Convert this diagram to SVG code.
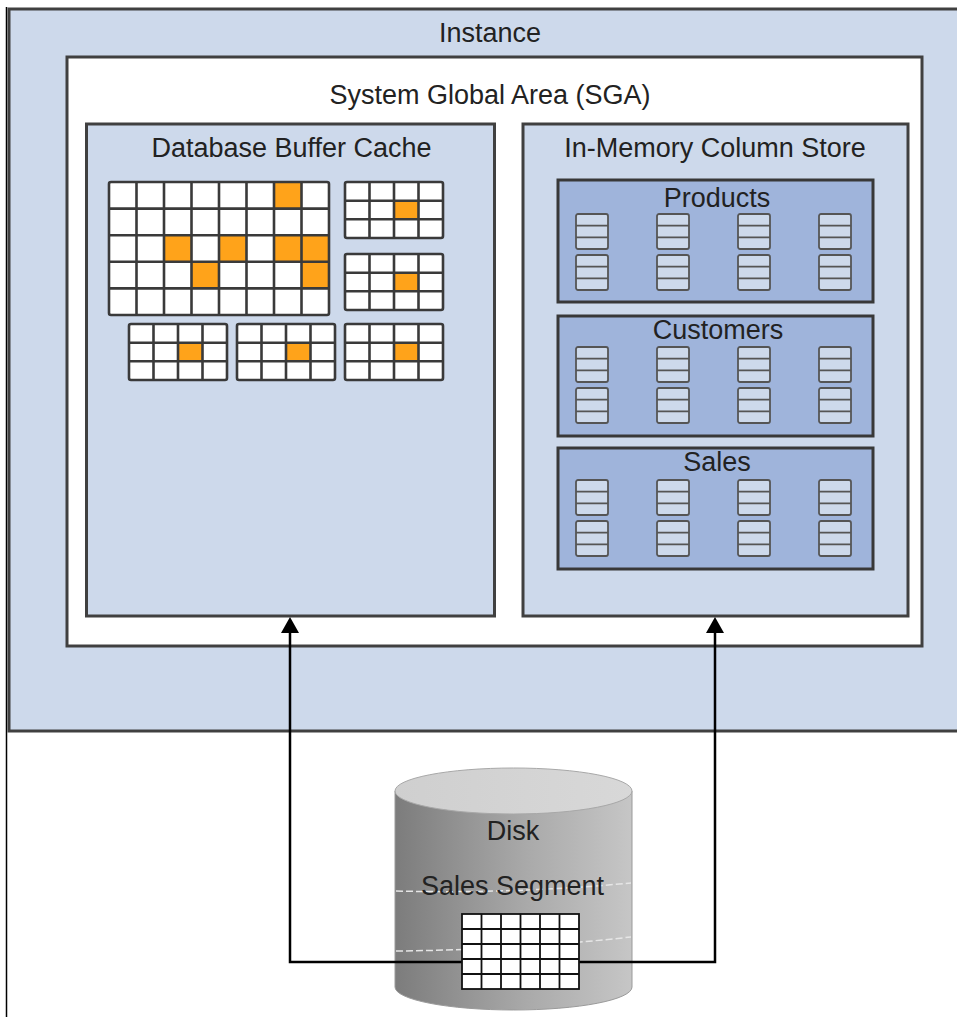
<svg xmlns="http://www.w3.org/2000/svg" xmlns:xlink="http://www.w3.org/1999/xlink" width="957" height="1017" viewBox="0 0 957 1017">
<style>
text{font-family:"Liberation Sans",Arial,sans-serif;font-size:27px;fill:#222;text-anchor:middle}
.box{stroke:#404040;stroke-width:3}
.blue{fill:#cdd9eb}
.tbl{fill:#9fb4db;stroke:#383838;stroke-width:3}
.grid{fill:none;stroke:#3a3a3a;stroke-width:2.6}
.cell{fill:#fff}
.hot{fill:#ffa31a}
.conn{fill:none;stroke:#000;stroke-width:2.5}
.band{fill:none;stroke:#e6e6e6;stroke-width:1.5;stroke-dasharray:7 3}
.dgrid{fill:none;stroke:#111;stroke-width:1.8}
</style>
<defs>
<marker id="arrow" viewBox="0 0 16 18" refX="8" refY="9" markerWidth="16" markerHeight="18" markerUnits="userSpaceOnUse" orient="auto">
<path d="M0,0 L16,9 L0,18 Z" fill="#000"/>
</marker>
<g id="smallgrid">
<rect x="0" y="0" width="98" height="56" rx="2" class="cell"/>
<rect x="49" y="18.7" width="24.5" height="18.7" class="hot"/>
<path class="grid" d="M24.5,0V56M49,0V56M73.5,0V56M0,18.7H98M0,37.3H98"/>
<rect x="0" y="0" width="98" height="56" rx="2" class="grid"/>
</g>
<g id="icon">
<rect x="0" y="0" width="32" height="35" rx="2" fill="#cdd9eb" stroke="#555" stroke-width="1.8"/>
<path d="M0,11.7H32M0,23.3H32" stroke="#555" stroke-width="1.8"/>
</g>
<linearGradient id="body" x1="0" y1="0" x2="1" y2="0">
<stop offset="0" stop-color="#7c7c7c"/>
<stop offset="0.55" stop-color="#a9a9a9"/>
<stop offset="1" stop-color="#c6c6c6"/>
</linearGradient>
<linearGradient id="top" x1="0" y1="0" x2="1" y2="0">
<stop offset="0" stop-color="#cfcfcf"/>
<stop offset="1" stop-color="#d8d8d8"/>
</linearGradient>
</defs>

<line x1="6.5" y1="7" x2="6.5" y2="1017" stroke="#000" stroke-width="1.5"/>

<g id="instance">
<rect x="9" y="9" width="960" height="722" class="box blue"/>
<text x="490" y="42">Instance</text>
</g>

<g id="sga">
<rect x="67" y="57" width="855" height="589" class="box" fill="#fff"/>
<text x="490" y="104">System Global Area (SGA)</text>
</g>

<g id="buffer-cache">
<rect x="86.5" y="124" width="408" height="492" class="box blue"/>
<text x="291.5" y="157">Database Buffer Cache</text>
<g id="big-grid">
<rect x="109" y="182" width="220" height="133" rx="2" class="cell"/>
<rect x="274" y="182" width="27.5" height="26.6" class="hot"/>
<rect x="164" y="235.2" width="27.5" height="26.6" class="hot"/>
<rect x="219" y="235.2" width="27.5" height="26.6" class="hot"/>
<rect x="274" y="235.2" width="27.5" height="26.6" class="hot"/>
<rect x="301.5" y="235.2" width="27.5" height="26.6" class="hot"/>
<rect x="191.5" y="261.8" width="27.5" height="26.6" class="hot"/>
<rect x="301.5" y="261.8" width="27.5" height="26.6" class="hot"/>
<path class="grid" d="M136.5,182V315M164,182V315M191.5,182V315M219,182V315M246.5,182V315M274,182V315M301.5,182V315M109,208.6H329M109,235.2H329M109,261.8H329M109,288.4H329"/>
<rect x="109" y="182" width="220" height="133" rx="2" class="grid"/>
</g>
<use xlink:href="#smallgrid" x="345" y="182"/>
<use xlink:href="#smallgrid" x="345" y="254"/>
<use xlink:href="#smallgrid" x="129" y="324"/>
<use xlink:href="#smallgrid" x="237" y="324"/>
<use xlink:href="#smallgrid" x="345" y="324"/>
</g>

<g id="column-store">
<rect x="523" y="124" width="385" height="492" class="box blue"/>
<text x="715" y="157">In-Memory Column Store</text>
</g>

<g id="products">
<rect x="558" y="180" width="315" height="122" class="tbl"/>
<text x="717" y="207">Products</text>
<use xlink:href="#icon" x="576" y="214"/><use xlink:href="#icon" x="657" y="214"/><use xlink:href="#icon" x="738" y="214"/><use xlink:href="#icon" x="819" y="214"/>
<use xlink:href="#icon" x="576" y="255"/><use xlink:href="#icon" x="657" y="255"/><use xlink:href="#icon" x="738" y="255"/><use xlink:href="#icon" x="819" y="255"/>
</g>

<g id="customers">
<rect x="558" y="316" width="315" height="120" class="tbl"/>
<text x="718" y="339">Customers</text>
<use xlink:href="#icon" x="576" y="347"/><use xlink:href="#icon" x="657" y="347"/><use xlink:href="#icon" x="738" y="347"/><use xlink:href="#icon" x="819" y="347"/>
<use xlink:href="#icon" x="576" y="388"/><use xlink:href="#icon" x="657" y="388"/><use xlink:href="#icon" x="738" y="388"/><use xlink:href="#icon" x="819" y="388"/>
</g>

<g id="sales">
<rect x="558" y="448" width="315" height="121" class="tbl"/>
<text x="717" y="471">Sales</text>
<use xlink:href="#icon" x="576" y="480"/><use xlink:href="#icon" x="657" y="480"/><use xlink:href="#icon" x="738" y="480"/><use xlink:href="#icon" x="819" y="480"/>
<use xlink:href="#icon" x="576" y="521"/><use xlink:href="#icon" x="657" y="521"/><use xlink:href="#icon" x="738" y="521"/><use xlink:href="#icon" x="819" y="521"/>
</g>

<g id="disk">
<path d="M395,791 V987 A118.5,23 0 0 0 632,987 V791 Z" fill="url(#body)" stroke="#9a9a9a" stroke-width="1"/>
<ellipse cx="513.5" cy="791" rx="118.5" ry="23" fill="url(#top)" stroke="#a8a8a8" stroke-width="1"/>
<path class="band" d="M396,891 Q513,894 631,883"/>
<path class="band" d="M396,951 Q513,950 631,937"/>
<text x="513" y="840">Disk</text>
<text x="512.5" y="895">Sales Segment</text>
</g>

<g id="connectors">
<path class="conn" d="M462,962 H290 V625" marker-end="url(#arrow)"/>
<path class="conn" d="M579,962 H715 V625" marker-end="url(#arrow)"/>
</g>

<g id="sales-segment-grid">
<rect x="462" y="914" width="117" height="75" fill="#fff"/>
<path class="dgrid" d="M481.5,914V989M501,914V989M520.5,914V989M540,914V989M559.5,914V989M462,929H579M462,944H579M462,959H579M462,974H579"/>
<rect x="462" y="914" width="117" height="75" class="dgrid"/>
</g>
</svg>
